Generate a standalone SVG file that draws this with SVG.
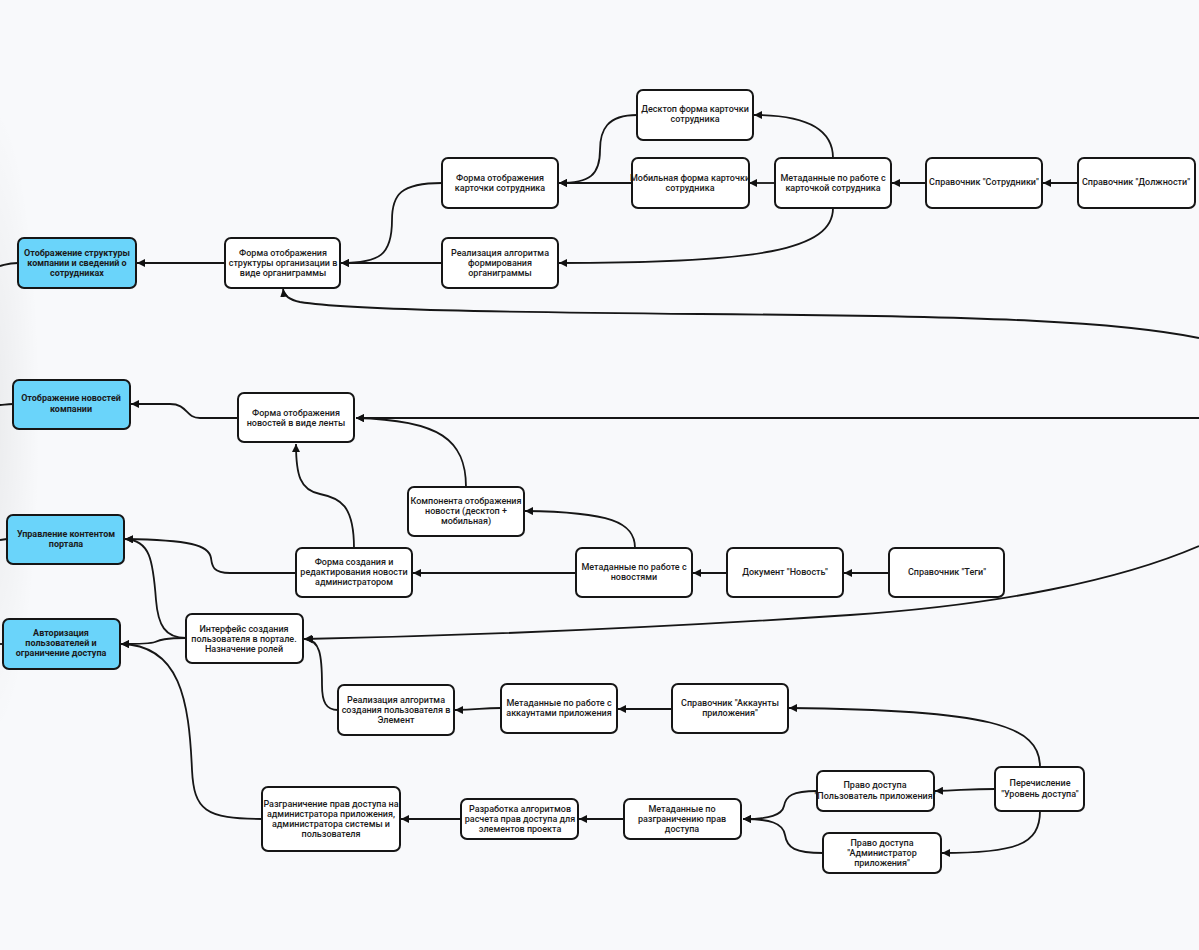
<svg xmlns="http://www.w3.org/2000/svg" width="1199" height="950" viewBox="0 0 1199 950">
<defs>
<marker id="arr" viewBox="0 0 10 10" refX="10" refY="5" markerWidth="8" markerHeight="8" markerUnits="userSpaceOnUse" orient="auto">
<path d="M0,0 L10,5 L0,10 z" fill="#111"/>
</marker>
<radialGradient id="shade" cx="0.5" cy="0.5" r="0.5">
<stop offset="0" stop-color="#000" stop-opacity="0.06"/>
<stop offset="1" stop-color="#000" stop-opacity="0"/>
</radialGradient>
<style>
.n rect{fill:#fff;stroke:#161616;stroke-width:2}
.b rect{fill:#6ad4fa;stroke:#161616;stroke-width:2}
text{font-family:Roboto,"Liberation Sans",sans-serif;font-size:9px;fill:#1a1a1a;text-anchor:middle;dominant-baseline:central;font-weight:500}
.b text{font-weight:700}
#connectors path{fill:none;stroke:#161616;stroke-width:1.8}
.a{marker-end:url(#arr)}
</style>
</defs>
<rect width="1199" height="950" fill="#f8f9fb"/>
<ellipse cx="-10" cy="420" rx="50" ry="320" fill="url(#shade)"/>

<g id="connectors">
<path class="a" d="M1078,183 L1043,183"/>
<path class="a" d="M926,183 L892,183"/>
<path class="a" d="M775,183 L749,183"/>
<path class="a" d="M833,158 C833,128 805,115 754,115"/>
<path class="a" d="M833,208 C833,250 760,263 559,263"/>
<path class="a" d="M632,183 L559,183"/>
<path class="a" d="M637,115 C607,115 600,130 600,150 C600,175 590,183 559,183"/>
<path class="a" d="M442,183 C400,183 392,195 392,220 C392,255 380,263 341,263"/>
<path class="a" d="M442,263 L341,263"/>
<path class="a" d="M225,263 L137,263"/>
<path d="M18,263 C8,263 5,265 0,266"/>
<path class="a" d="M1199,338 C1120,322 1000,316 700,314 C500,312 350,310 300,302 C290,300 284,296 283,289"/>

<path class="a" d="M1199,418 L356,418"/>
<path class="a" d="M466,487 C466,440 440,420 356,418"/>
<path class="a" d="M354,548 C354,505 340,498 320,494 C300,490 296,475 296,444"/>
<path class="a" d="M238,418 L200,418 C185,418 188,404 170,404 L131,404"/>
<path d="M13,404 C6,404 4,405 0,405"/>
<path class="a" d="M296,573 L230,573 C212,573 212,565 211,558 C209,545 190,540 125,539"/>
<path class="a" d="M576,573 L413,573"/>
<path class="a" d="M727,573 L693,573"/>
<path class="a" d="M889,573 L844,573"/>
<path d="M7,539 L0,540"/>
<path class="a" d="M635,548 C635,522 610,512 525,511"/>

<path class="a" d="M1199,546 C1120,580 1000,605 850,615 C700,625 500,635 304,639"/>
<path class="a" d="M338,710 C326,710 322,702 322,685 C322,655 320,640 305,639"/>
<path class="a" d="M186,638 C165,638 158,625 156,600 C153,560 150,540 125,539"/>
<path class="a" d="M186,638 C165,638 160,640 155,642 C150,644 140,644 121,644"/>
<path class="a" d="M262,819 C205,819 194,810 192,770 C189,700 180,645 121,644"/>
<path d="M3,644 L0,644"/>
<path class="a" d="M501,708 C480,708 478,710 455,710"/>
<path class="a" d="M672,709 L618,709"/>
<path class="a" d="M1040,767 C1040,725 990,710 789,708"/>
<path class="a" d="M995,789 C970,789 965,790 935,791"/>
<path class="a" d="M1040,811 C1040,845 1015,853 942,853"/>
<path class="a" d="M817,791 C792,791 786,796 784,806 C782,815 770,819 743,819"/>
<path class="a" d="M823,853 C795,853 787,848 785,835 C783,823 770,819 743,819"/>
<path class="a" d="M623,819 L579,819"/>
<path class="a" d="M461,819 L401,819"/>
</g>

<g id="n1" class="b"><rect x="18" y="238" width="118" height="50" rx="6"/><text x="77" y="253">Отображение структуры</text><text x="77" y="263">компании и сведений о</text><text x="77" y="273">сотрудниках</text></g>
<g id="n2" class="n"><rect x="225" y="238" width="115" height="50" rx="6"/><text x="283" y="253">Форма отображения</text><text x="283" y="263">структуры организации в</text><text x="283" y="273">виде органиграммы</text></g>
<g id="n3" class="n"><rect x="442" y="158" width="116" height="50" rx="6"/><text x="500" y="178">Форма отображения</text><text x="500" y="188">карточки сотрудника</text></g>
<g id="n4" class="n"><rect x="442" y="238" width="116" height="50" rx="6"/><text x="500" y="253">Реализация алгоритма</text><text x="500" y="263">формирования</text><text x="500" y="273">органиграммы</text></g>
<g id="n5" class="n"><rect x="637" y="90" width="116" height="50" rx="6"/><text x="695" y="109">Десктоп форма карточки</text><text x="695" y="119">сотрудника</text></g>
<g id="n6" class="n"><rect x="632" y="158" width="117" height="50" rx="6"/><text x="690" y="178">Мобильная форма карточки</text><text x="690" y="188">сотрудника</text></g>
<g id="n7" class="n"><rect x="775" y="158" width="116" height="50" rx="6"/><text x="833" y="178">Метаданные по работе с</text><text x="833" y="188">карточкой сотрудника</text></g>
<g id="n8" class="n"><rect x="926" y="158" width="116" height="50" rx="6"/><text x="984" y="182">Справочник "Сотрудники"</text></g>
<g id="n9" class="n"><rect x="1078" y="158" width="117" height="50" rx="6"/><text x="1136" y="182">Справочник "Должности"</text></g>

<g id="n10" class="b"><rect x="13" y="380" width="117" height="49" rx="6"/><text x="71" y="398">Отображение новостей</text><text x="71" y="409">компании</text></g>
<g id="n11" class="n"><rect x="238" y="393" width="116" height="49" rx="6"/><text x="296" y="413">Форма отображения</text><text x="296" y="423">новостей в виде ленты</text></g>
<g id="n12" class="n"><rect x="408" y="487" width="116" height="49" rx="6"/><text x="466" y="501">Компонента отображения</text><text x="466" y="511">новости (десктоп +</text><text x="466" y="521">мобильная)</text></g>
<g id="n13" class="b"><rect x="7" y="515" width="117" height="49" rx="6"/><text x="66" y="534">Управление контентом</text><text x="66" y="544">портала</text></g>
<g id="n14" class="n"><rect x="296" y="548" width="116" height="49" rx="6"/><text x="354" y="562">Форма создания и</text><text x="354" y="572">редактирования новости</text><text x="354" y="582">администратором</text></g>
<g id="n15" class="n"><rect x="576" y="548" width="116" height="49" rx="6"/><text x="634" y="567">Метаданные по работе с</text><text x="634" y="577">новостями</text></g>
<g id="n16" class="n"><rect x="727" y="548" width="116" height="49" rx="6"/><text x="785" y="572">Документ "Новость"</text></g>
<g id="n17" class="n"><rect x="889" y="548" width="115" height="49" rx="6"/><text x="947" y="572">Справочник "Теги"</text></g>

<g id="n18" class="b"><rect x="3" y="619" width="117" height="50" rx="6"/><text x="61" y="633">Авторизация</text><text x="61" y="643">пользователей и</text><text x="61" y="653">ограничение доступа</text></g>
<g id="n19" class="n"><rect x="186" y="614" width="117" height="49" rx="6"/><text x="244" y="629">Интерфейс создания</text><text x="244" y="639">пользователя в портале.</text><text x="244" y="649">Назначение ролей</text></g>
<g id="n20" class="n"><rect x="338" y="685" width="116" height="50" rx="6"/><text x="396" y="700">Реализация алгоритма</text><text x="396" y="710">создания пользователя в</text><text x="396" y="720">Элемент</text></g>
<g id="n21" class="n"><rect x="501" y="684" width="116" height="49" rx="6"/><text x="559" y="703">Метаданные по работе с</text><text x="559" y="713">аккаунтами приложения</text></g>
<g id="n22" class="n"><rect x="672" y="684" width="116" height="49" rx="6"/><text x="730" y="703">Справочник "Аккаунты</text><text x="730" y="713">приложения"</text></g>
<g id="n23" class="n"><rect x="262" y="787" width="138" height="64" rx="6"/><text x="331" y="804">Разграничение прав доступа на</text><text x="331" y="814">администратора приложения,</text><text x="331" y="824">администратора системы и</text><text x="331" y="834">пользователя</text></g>
<g id="n24" class="n"><rect x="461" y="799" width="117" height="40" rx="6"/><text x="520" y="809">Разработка алгоритмов</text><text x="520" y="819">расчета прав доступа для</text><text x="520" y="829">элементов проекта</text></g>
<g id="n25" class="n"><rect x="624" y="799" width="117" height="40" rx="6"/><text x="682" y="809">Метаданные по</text><text x="682" y="819">разграничению прав</text><text x="682" y="829">доступа</text></g>
<g id="n26" class="n"><rect x="817" y="771" width="117" height="40" rx="6"/><text x="875" y="785">Право доступа</text><text x="875" y="796">"Пользователь приложения"</text></g>
<g id="n27" class="n"><rect x="823" y="833" width="118" height="40" rx="6"/><text x="882" y="843">Право доступа</text><text x="882" y="853">"Администратор</text><text x="882" y="863">приложения"</text></g>
<g id="n28" class="n"><rect x="995" y="767" width="89" height="44" rx="6"/><text x="1040" y="783">Перечисление</text><text x="1040" y="794">"Уровень доступа"</text></g>
</svg>
